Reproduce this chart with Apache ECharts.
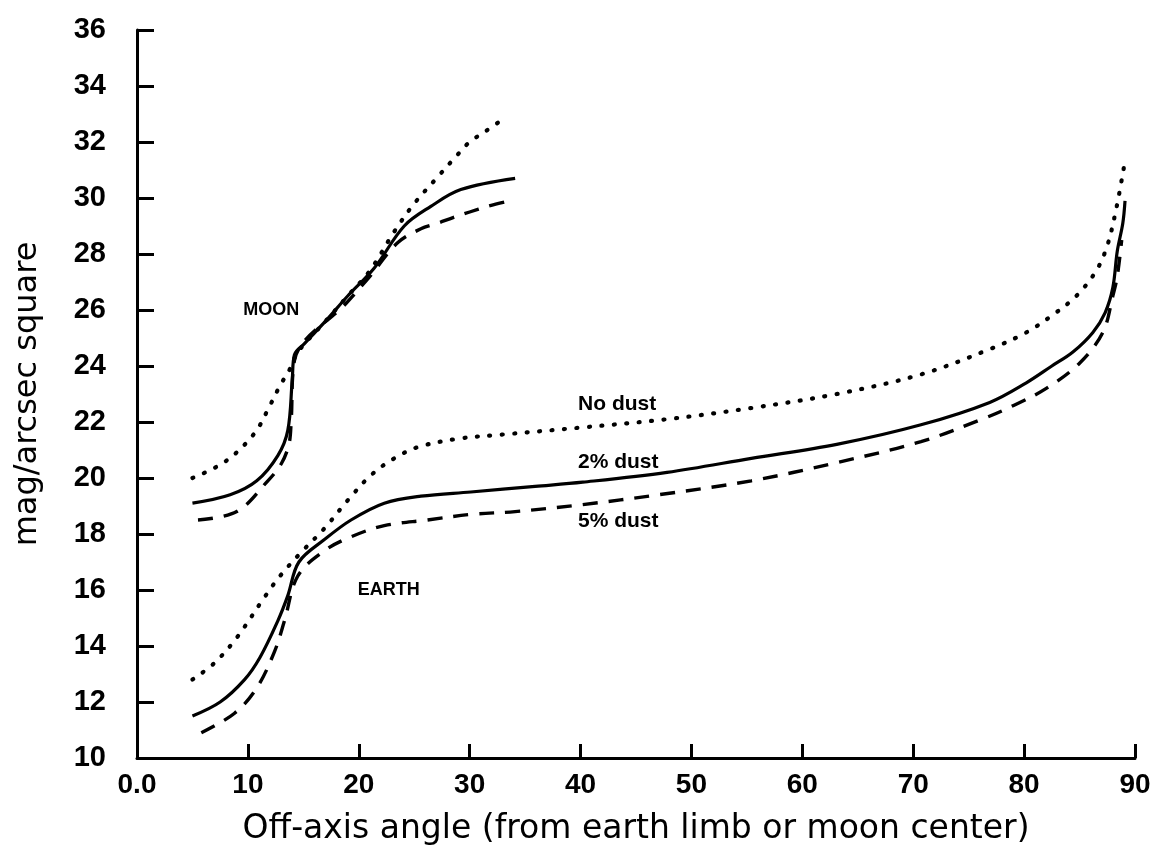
<!DOCTYPE html>
<html>
<head>
<meta charset="utf-8">
<script src="https://cdn.jsdelivr.net/npm/echarts@6/dist/echarts.min.js"></script>
<style>html,body{margin:0;padding:0;background:#fff}#c{width:1159px;height:851px}</style>
</head>
<body>
<div id="c"></div>
<script>
// ---- data ----
const xTitle = 'Off-axis angle (from earth limb or moon center)';
const yTitle = 'mag/arcsec square';

// MOON curves [angle, mag/arcsec^2]
const moonNoDust = [[5,20.0],[8,20.6],[10.6,21.6],[12,22.6],[12.9,23.3],[13.8,23.9],[14.5,24.5],[17,25.6],[19,26.5],[21,27.4],[23.2,28.8],[25,29.8],[27,30.7],[28.8,31.5],[30,32.0],[31.5,32.4],[33.3,32.9]];
const moon2Dust  = [[5,19.1],[8.4,19.4],[10.8,19.9],[12.7,20.8],[13.6,21.7],[14.0,23.5],[14.2,24.4],[15.1,24.8],[17,25.6],[19,26.5],[21.4,27.5],[24.1,29.0],[26.5,29.7],[29.2,30.3],[34.1,30.7]];
const moon5Dust  = [[5.5,18.5],[9,18.8],[11.8,19.9],[13,20.5],[13.7,21.2],[13.9,22.0],[14.2,24.2],[19,26.3],[21,27.2],[23.5,28.4],[25.6,28.9],[27.1,29.1],[28.5,29.3],[30,29.5],[31.6,29.7],[33.6,29.9]];

// EARTH curves
const earthNoDust = [[5,12.8],[7,13.4],[9,14.3],[11.6,15.8],[12.9,16.5],[14.7,17.3],[16.9,18.2],[19,19.2],[21.1,20.1],[23.2,20.7],[25.3,21.1],[28.9,21.4],[32.9,21.55],[40,21.8],[47.8,22.1],[55.4,22.5],[63.1,23.0],[70.7,23.7],[76.9,24.6],[80.2,25.2],[82.5,25.8],[84.7,26.5],[86.5,27.4],[87.5,28.3],[88.3,29.6],[89,31.1]];
const earth2Dust  = [[5,11.5],[7.5,12.0],[9.7,12.8],[11.1,13.6],[12.7,14.9],[13.6,15.8],[14.6,17.0],[16.9,17.8],[19.3,18.5],[22.3,19.1],[25.6,19.35],[30.1,19.5],[35.9,19.7],[40.2,19.85],[47.8,20.2],[55.4,20.7],[63.1,21.2],[70.7,21.9],[76.9,22.7],[80.2,23.4],[82.5,24.0],[84.4,24.5],[86.2,25.2],[87.3,25.9],[88,26.8],[88.4,28.1],[88.9,29.1],[89.1,29.9]];
const earth5Dust  = [[5.8,10.9],[8.8,11.6],[10.8,12.5],[12.4,13.8],[13.3,14.9],[14.5,16.5],[16.9,17.4],[19.3,17.9],[22.3,18.3],[26.2,18.5],[30.1,18.7],[34.1,18.8],[40.2,19.05],[47,19.4],[55.4,19.9],[63.1,20.55],[70.7,21.3],[76.2,22.1],[79.1,22.6],[82,23.2],[85,24.1],[87.1,25.2],[88,26.5],[88.4,27.2],[88.8,28.5]];

// annotation texts and their anchors in data units
const annotationText = ['MOON','EARTH','No dust','2% dust','5% dust'];
const annotationAt   = [[12.1,26.0],[22.7,16.0],[43.3,22.65],[43.4,20.55],[43.4,18.45]];

// axis ticks
const xMin = 0, xMax = 90, xStep = 10;
const yMin = 10, yMax = 36, yStep = 2;

// ---- chart ----
const chart = echarts.init(document.getElementById('c'));
const solid = {color:'#000', width:3.2, type:'solid', opacity:1};
const dotted = {color:'#000', width:4.2, type:[1,11.5], cap:'round', opacity:1};
const dashed = {color:'#000', width:3.4, type:[15,11], opacity:1};
function lineSeries(name, data, style){
  return {name, type:'line', data, showSymbol:false, symbol:'none', smooth:0.35,
          lineStyle:style, z:2, silent:true};
}
const annData = annotationAt.map((p,i)=>({value:[p[0],p[1]],
  label:{fontSize: i<2 ? 18 : 21, formatter: annotationText[i]}}));
chart.setOption({
  animation:false,
  backgroundColor:'#fff',
  grid:{left:137, right:24, top:30, bottom:93},
  xAxis:{type:'value', min:xMin, max:xMax, interval:xStep,
    name:xTitle, nameLocation:'middle', nameGap:55,
    nameTextStyle:{fontFamily:'DejaVu Sans', fontSize:33, color:'#000'},
    axisLine:{show:true, onZero:false, lineStyle:{color:'#000', width:3}},
    axisTick:{show:true, inside:true, length:14, lineStyle:{color:'#000', width:3}},
    axisLabel:{margin:13, color:'#000', fontFamily:'Liberation Sans', fontWeight:'bold', fontSize:28,
      formatter:v=> v===0 ? '0.0' : String(v)},
    splitLine:{show:false}},
  yAxis:{type:'value', min:yMin, max:yMax, interval:yStep,
    name:yTitle, nameLocation:'middle', nameGap:93, nameRotate:90,
    nameTextStyle:{fontFamily:'DejaVu Sans', fontSize:32, color:'#000'},
    axisLine:{show:true, onZero:false, lineStyle:{color:'#000', width:3}},
    axisTick:{show:true, inside:true, length:17, lineStyle:{color:'#000', width:3}},
    axisLabel:{margin:31, color:'#000', fontFamily:'Liberation Sans', fontWeight:'bold', fontSize:29},
    splitLine:{show:false}},
  series:[
    lineSeries('Moon no dust', moonNoDust, dotted),
    lineSeries('Moon 2% dust', moon2Dust, solid),
    lineSeries('Moon 5% dust', moon5Dust, dashed),
    lineSeries('Earth no dust', earthNoDust, dotted),
    lineSeries('Earth 2% dust', earth2Dust, solid),
    lineSeries('Earth 5% dust', earth5Dust, dashed),
    {type:'scatter', data:annData, symbolSize:0, silent:true, z:5,
     itemStyle:{opacity:1},
     label:{show:true, position:'inside', color:'#000', opacity:1,
            fontFamily:'Liberation Sans', fontWeight:'bold'}}
  ]
});
</script>
</body>
</html>
